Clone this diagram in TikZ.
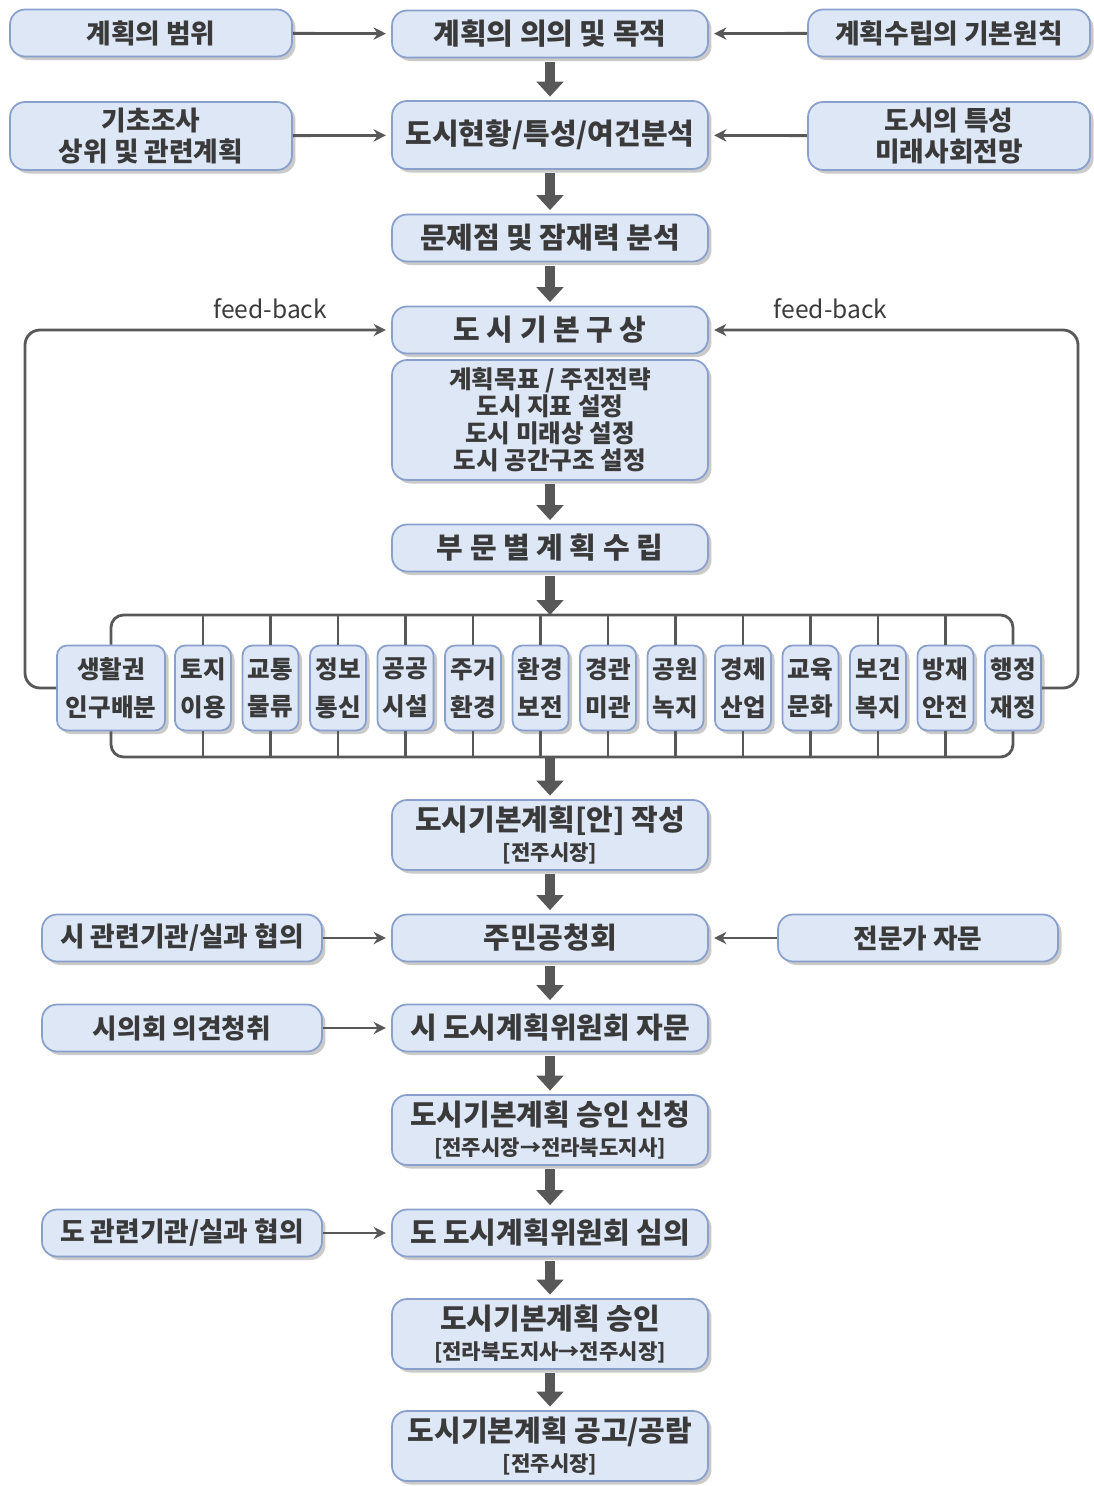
\documentclass[tikz,border=0pt]{standalone}
\usepackage{fontspec}
\setmainfont{Noto Sans CJK KR}
\usetikzlibrary{arrows.meta, shadows}

\definecolor{boxfill}{RGB}{221,231,246}
\definecolor{boxline}{RGB}{138,160,204}
\definecolor{ink}{RGB}{58,58,58}
\definecolor{wire}{RGB}{88,88,88}

\newcommand{\stagenote}[1]{{\fontsize{12}{13}\selectfont #1}}

\tikzset{
    stage/.style={draw=boxline, fill=boxfill, line width=1pt,
        rounded corners=0.3cm, text=ink, align=center, inner sep=0pt,
        font=\bfseries\fontsize{16.5}{19}\selectfont,
        minimum width=6.32cm, minimum height=0.94cm,
        drop shadow={shadow xshift=2pt, shadow yshift=-2pt,
            opacity=0.35, fill=black!60}},
    side/.style={stage, minimum width=5.64cm,
        font=\bfseries\fontsize{15.2}{18}\selectfont},
    lowside/.style={side, minimum width=5.6cm},
    sector/.style={stage, minimum width=1.12cm, minimum height=1.7cm,
        rounded corners=0.2cm, font=\bfseries\fontsize{14}{21.5}\selectfont},
    down/.style={draw=wire, line width=5.5pt,
        -{Triangle[length=8.5pt, width=15pt]},
        shorten >=2pt, shorten <=2pt},
    feed/.style={draw=wire, line width=1.6pt,
        -{Stealth[length=7pt, width=7pt]}, shorten >=3pt},
    bus/.style={draw=wire, line width=1.6pt, rounded corners=0.25cm},
    fblabel/.style={above=2pt, text=ink, font=\fontsize{14}{16}\selectfont}
}

\begin{document}
\begin{tikzpicture}[x=0.02cm, y=-0.02cm]
    \useasboundingbox (0,0) rectangle (1093,1486);

    \node[side] (scope) at (151, 33) {계획의 범위};
    \node[stage] (purpose) at (550, 34) {계획의 의의 및 목적};
    \node[side] (principle) at (949, 33) {계획수립의 기본원칙};

    \node[side, minimum height=1.36cm] (survey) at (151, 136)
        {기초조사\\상위 및 관련계획};
    \node[stage, minimum height=1.36cm] (status) at (550, 135)
        {도시현황/특성/여건분석};
    \node[side, minimum height=1.36cm] (future) at (949, 136)
        {도시의 특성\\미래사회전망};

    \node[stage] (problem) at (550, 238) {문제점 및 잠재력 분석};
    \node[stage] (vision) at (550, 330) {도 시 기 본 구 상};
    \node[stage, minimum height=2.4cm,
        font=\bfseries\fontsize{14}{15.4}\selectfont] (goals) at (550, 420)
        {계획목표 / 주진전략\\도시 지표 설정\\도시 미래상 설정\\도시 공간구조 설정};
    \node[stage] (sector) at (550, 548) {부 문 별 계 획 수 립};

    \node[sector, minimum width=2.16cm] (s1) at (111, 688) {생활권\\인구배분};
    \foreach \i/\txt in {2/토지\\이용, 3/교통\\물류, 4/정보\\통신, 5/공공\\시설,
        6/주거\\환경, 7/환경\\보전, 8/경관\\미관, 9/공원\\녹지, 10/경제\\산업,
        11/교육\\문화, 12/보건\\복지, 13/방재\\안전, 14/행정\\재정}
        \node[sector] (s\i) at ({203+67.5*(\i-2)}, 688) {\txt};

    \coordinate (bt) at (550, 615);
    \coordinate (bb) at (550, 757);
    \draw[bus] (s1.north) |- (bt) -| (s14.north);
    \draw[bus] (s1.south) |- (bb) -| (s14.south);
    \foreach \i in {2,...,13} {
        \draw[bus] (s\i.north) -- (s\i.north |- bt);
        \draw[bus] (s\i.south) -- (s\i.south |- bb);
    }

    \node[stage, minimum height=1.4cm] (draft) at (550, 835)
        {도시기본계획[안] 작성\\[-2pt]\stagenote{[전주시장]}};
    \node[stage] (hearing) at (550, 938) {주민공청회};
    \node[lowside] (cityorg) at (182, 938) {시 관련기관/실과 협의};
    \node[lowside] (expert) at (918, 938) {전문가 자문};
    \node[stage] (citycom) at (550, 1028) {시 도시계획위원회 자문};
    \node[lowside] (council) at (182, 1028) {시의회 의견청취};
    \node[stage, minimum height=1.4cm] (apply) at (550, 1130)
        {도시기본계획 승인 신청\\[-2pt]\stagenote{[전주시장→전라북도지사]}};
    \node[stage] (provcom) at (550, 1233) {도 도시계획위원회 심의};
    \node[lowside] (provorg) at (182, 1233) {도 관련기관/실과 협의};
    \node[stage, minimum height=1.4cm] (approve) at (550, 1334)
        {도시기본계획 승인\\[-2pt]\stagenote{[전라북도지사→전주시장]}};
    \node[stage, minimum height=1.4cm] (notice) at (550, 1446)
        {도시기본계획 공고/공람\\[-2pt]\stagenote{[전주시장]}};

    \draw[feed] (scope) -- (purpose);
    \draw[feed] (principle) -- (purpose);
    \draw[feed] (survey) -- (status);
    \draw[feed] (future) -- (status);
    \draw[feed] (cityorg) -- (hearing);
    \draw[feed] (expert) -- (hearing);
    \draw[feed] (council) -- (citycom);
    \draw[feed] (provorg) -- (provcom);

    \coordinate (fbl) at (25, 330);
    \coordinate (fbr) at (1078, 330);
    \draw[feed, rounded corners=0.3cm] (s1.west) -| (fbl)
        -- node[pos=0.67, fblabel] {feed-back} (vision.west);
    \draw[feed, rounded corners=0.3cm] (s14.east) -| (fbr)
        -- node[pos=0.67, fblabel] {feed-back} (vision.east);

    \draw[down] (purpose) -- (status);
    \draw[down] (status) -- (problem);
    \draw[down] (problem) -- (vision);
    \draw[down] (goals) -- (sector);
    \draw[down, shorten >=0pt] (sector.south) -- (sector.south |- bt);
    \draw[down, shorten <=0pt] (bb) -- (draft);
    \draw[down] (draft) -- (hearing);
    \draw[down] (hearing) -- (citycom);
    \draw[down] (citycom) -- (apply);
    \draw[down] (apply) -- (provcom);
    \draw[down] (provcom) -- (approve);
    \draw[down] (approve) -- (notice);
\end{tikzpicture}
\end{document}
